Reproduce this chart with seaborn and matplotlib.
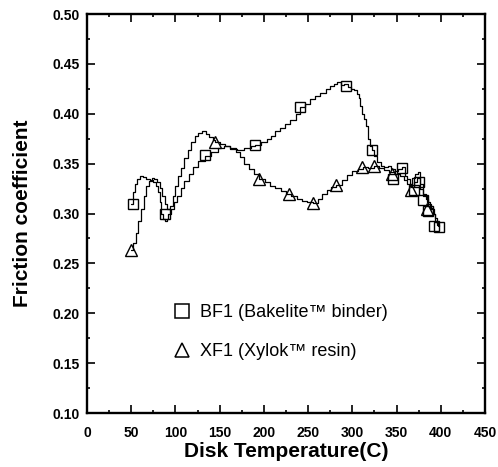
import numpy as np
import pandas as pd
import seaborn as sns
import matplotlib.pyplot as plt
from matplotlib.lines import Line2D
from matplotlib.ticker import MultipleLocator

# BF1 (Bakelite binder) trace
bf1_temp = [50, 52, 54, 57, 60, 63, 67, 71, 75, 78, 80, 82, 84, 86, 88, 90, 92, 95, 98,
            102, 106, 110, 115, 120, 126, 133, 140, 148, 155, 162, 170, 178, 185, 190, 197,
            203, 208, 213, 218, 224, 230, 236, 241, 246, 252, 258, 264, 270, 275, 279, 283,
            287, 291, 295, 299, 302, 305, 307, 309, 311, 313, 316, 318, 320, 322, 325, 328,
            332, 336, 340, 344, 348, 352, 356, 359, 362, 365, 368, 371, 374, 377, 380, 383,
            386, 389, 392, 394, 396, 398]
bf1_fric = [0.310, 0.322, 0.330, 0.335, 0.338, 0.337, 0.335, 0.334, 0.332, 0.328, 0.322,
            0.312, 0.300, 0.294, 0.292, 0.294, 0.300, 0.305, 0.312, 0.318, 0.326, 0.333,
            0.340, 0.347, 0.353, 0.358, 0.362, 0.366, 0.368, 0.365, 0.364, 0.366, 0.368,
            0.369, 0.372, 0.375, 0.378, 0.383, 0.386, 0.390, 0.394, 0.400, 0.407, 0.410,
            0.415, 0.418, 0.421, 0.425, 0.428, 0.430, 0.432, 0.429, 0.430, 0.427, 0.425,
            0.424, 0.420, 0.416, 0.408, 0.400, 0.395, 0.388, 0.375, 0.368, 0.364, 0.358,
            0.352, 0.348, 0.347, 0.348, 0.345, 0.343, 0.345, 0.347, 0.338, 0.335, 0.330,
            0.336, 0.340, 0.342, 0.330, 0.320, 0.315, 0.310, 0.305, 0.300, 0.292, 0.288, 0.287]

# XF1 (Xylok resin) trace
xf1_temp = [50, 52, 55, 58, 61, 64, 67, 70, 73, 76, 79, 82, 85, 88, 91, 94, 97, 100, 103,
            106, 110, 114, 118, 122, 126, 130, 134, 138, 142, 145, 150, 156, 162, 168, 173,
            178, 183, 189, 195, 201, 207, 213, 219, 225, 231, 237, 243, 249, 255, 261, 266,
            271, 276, 282, 288, 294, 300, 306, 312, 318, 324, 330, 336, 342, 348, 354, 358,
            362, 366, 370, 373, 376, 380, 384, 388, 391, 394, 396, 397]
xf1_fric = [0.263, 0.270, 0.280, 0.292, 0.305, 0.318, 0.328, 0.333, 0.336, 0.335, 0.332,
            0.326, 0.318, 0.310, 0.305, 0.308, 0.318, 0.328, 0.338, 0.346, 0.356, 0.364,
            0.372, 0.378, 0.381, 0.383, 0.380, 0.377, 0.374, 0.372, 0.370, 0.368, 0.366,
            0.362, 0.357, 0.350, 0.345, 0.340, 0.335, 0.332, 0.328, 0.326, 0.323, 0.320,
            0.318, 0.315, 0.313, 0.312, 0.311, 0.315, 0.320, 0.324, 0.327, 0.329, 0.334,
            0.339, 0.343, 0.345, 0.347, 0.346, 0.348, 0.346, 0.344, 0.342, 0.340, 0.338,
            0.334, 0.330, 0.327, 0.332, 0.336, 0.325, 0.318, 0.312, 0.306, 0.300, 0.295,
            0.290, 0.287]

# symbol positions
bf1_mark_temp = [52, 88, 133, 190, 241, 293, 322, 346, 356, 370, 375, 380, 386, 392, 398]
bf1_mark_fric = [0.310, 0.300, 0.359, 0.369, 0.407, 0.428, 0.364, 0.335, 0.346, 0.324,
                 0.332, 0.314, 0.303, 0.287, 0.286]
xf1_mark_temp = [50, 145, 195, 228, 255, 282, 311, 325, 345, 366, 384]
xf1_mark_fric = [0.263, 0.372, 0.335, 0.320, 0.311, 0.329, 0.347, 0.348, 0.340, 0.324, 0.305]

sns.set_style('ticks')
plt.rcParams['font.family'] = ['Liberation Sans', 'DejaVu Sans']
plt.rcParams['text.color'] = 'black'

fig = plt.figure(figsize=(4.98, 4.67), dpi=100)
ax = fig.add_axes([0.1747, 0.1156, 0.7992, 0.8544])

sns.lineplot(x=bf1_temp, y=bf1_fric, sort=False, estimator=None, color='black',
             lw=0.9, drawstyle='steps-post', ax=ax)
sns.lineplot(x=xf1_temp, y=xf1_fric, sort=False, estimator=None, color='black',
             lw=0.9, drawstyle='steps-post', ax=ax)

ax.plot(bf1_mark_temp, bf1_mark_fric, ls='', marker='s', ms=7, mfc='none',
        mec='black', mew=1.0)
ax.plot(xf1_mark_temp, xf1_mark_fric, ls='', marker='^', ms=8, mfc='none',
        mec='black', mew=1.0)

ax.set_xlim(0, 450)
ax.set_ylim(0.10, 0.50)
ax.xaxis.set_major_locator(MultipleLocator(50))
ax.xaxis.set_minor_locator(MultipleLocator(25))
ax.yaxis.set_major_locator(MultipleLocator(0.05))
ax.yaxis.set_minor_locator(MultipleLocator(0.025))
ax.yaxis.set_major_formatter(plt.FormatStrFormatter('%.2f'))
ax.tick_params(which='both', direction='in', top=True, right=True, width=1.2,
               colors='black', labelcolor='black')
ax.tick_params(which='major', length=5.5, labelsize=10)
ax.tick_params(axis='x', which='major', pad=9)
ax.tick_params(axis='y', which='major', pad=5)
ax.tick_params(which='minor', length=2.5)
for lab in ax.get_xticklabels() + ax.get_yticklabels():
    lab.set_fontweight('bold')
for sp in ax.spines.values():
    sp.set_visible(True)
    sp.set_linewidth(1.7)
    sp.set_color('black')

ax.set_xlabel('Disk Temperature(C)', fontsize=15, fontweight='bold', color='black',
              labelpad=2)
ax.set_ylabel('Friction coefficient', fontsize=15, fontweight='bold', color='black',
              labelpad=15)

handles = [Line2D([], [], ls='', marker='s', ms=9.5, mfc='none', mec='black', mew=1.1),
           Line2D([], [], ls='', marker='^', ms=10.5, mfc='none', mec='black', mew=1.1)]
leg = ax.legend(handles, ['BF1 (Bakelite\u2122 binder)', 'XF1 (Xylok\u2122 resin)'],
                loc='center left', bbox_to_anchor=(0.175, 0.2025), frameon=False,
                fontsize=13, handletextpad=0.5, labelspacing=1.2, handlelength=1.0)
for t in leg.get_texts():
    t.set_color('black')

fig.savefig('out.png', dpi=100)
